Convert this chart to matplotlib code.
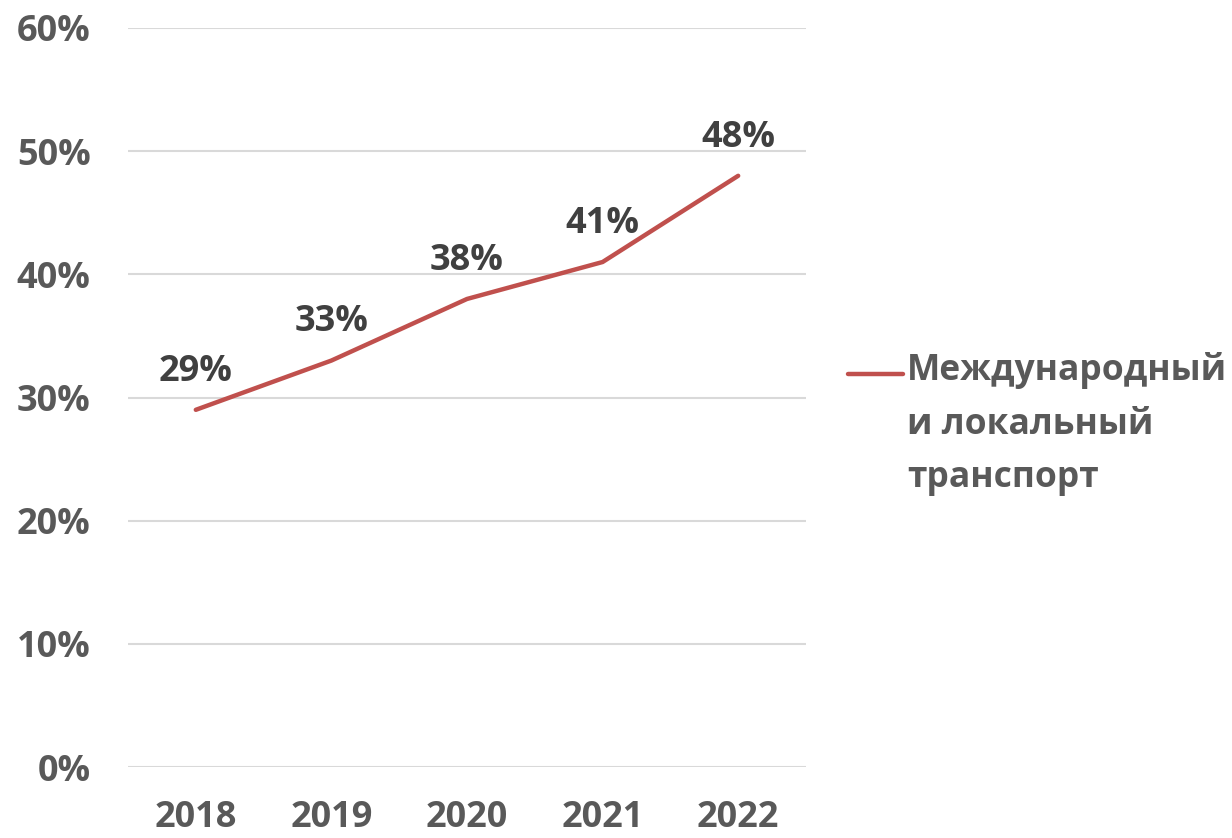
import matplotlib.pyplot as plt
from matplotlib.lines import Line2D

# Data
years = ['2018', '2019', '2020', '2021', '2022']
share = [29, 33, 38, 41, 48]
y_ticks = [0, 10, 20, 30, 40, 50, 60]
series_name = 'Международный\nи локальный\nтранспорт'

text_color = '#595959'
label_color = '#404040'
line_color = '#C0504D'
plt.rcParams['font.family'] = ['Open Sans', 'DejaVu Sans']
plt.rcParams['font.weight'] = 'bold'

fig = plt.figure(figsize=(12.32, 8.38), dpi=100)
ax = fig.add_axes([0.1039, 0.0847, 0.5503, 0.8819])

x = list(range(len(years)))
ax.plot(x, share, color=line_color, linewidth=3.2, solid_capstyle='round')

# Data labels
for xi, v in zip(x, share):
    ax.annotate(f'{v}%', (xi, v), xytext=(0, 21), textcoords='offset points',
                ha='center', va='baseline', fontsize=26, fontweight='bold',
                color=label_color)

ax.set_xlim(-0.5, len(years) - 0.5)
ax.set_ylim(0, 60)
ax.set_xticks(x)
ax.set_xticklabels(years)
ax.set_yticks(y_ticks)
ax.set_yticklabels([f'{t}%' for t in y_ticks])
ax.tick_params(axis='both', length=0, labelsize=26, labelcolor=text_color)
ax.tick_params(axis='y', pad=27)
ax.tick_params(axis='x', pad=24)
for lbl in ax.get_xticklabels() + ax.get_yticklabels():
    lbl.set_fontweight('bold')

ax.grid(axis='y', color='#D9D9D9', linewidth=1.5)
ax.set_axisbelow(True)
for s in ax.spines.values():
    s.set_visible(False)

# Legend drawn by hand so the line sits on the first text line
fig.add_artist(Line2D([848 / 1232, 903 / 1232], [1 - 374 / 838, 1 - 374 / 838],
                      color=line_color, linewidth=3.2, solid_capstyle='round'))
fig.text(907 / 1232, 1 - 352 / 838, series_name, ha='left', va='top',
         fontsize=25.5, fontweight='bold', color=text_color, linespacing=1.65)

fig.savefig('out.png', dpi=100)
